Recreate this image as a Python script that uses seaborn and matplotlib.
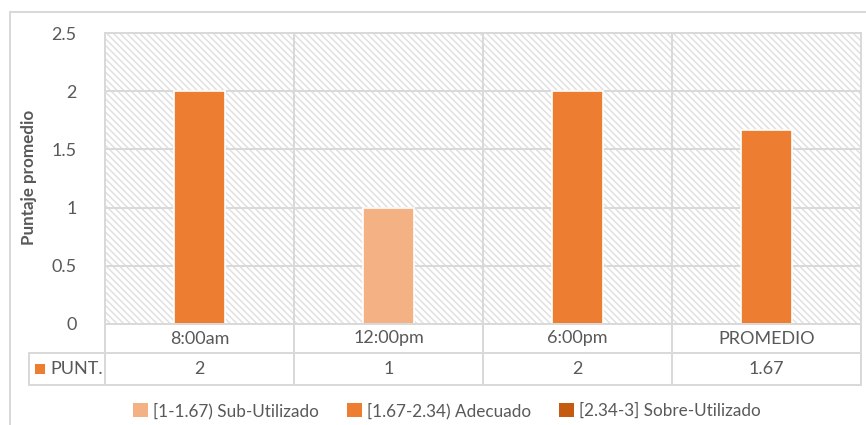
import matplotlib
matplotlib.use("Agg")
import matplotlib.pyplot as plt
import matplotlib.transforms as mtransforms
from matplotlib.lines import Line2D
from matplotlib.patches import Rectangle, Patch
import seaborn as sns
import pandas as pd

# ---- data ----
categories = ["8:00am", "12:00pm", "6:00pm", "PROMEDIO"]
values = [2, 1, 2, 1.67]
value_labels = ["2", "1", "2", "1.67"]
levels = ["[1-1.67) Sub-Utilizado", "[1.67-2.34) Adecuado", "[2.34-3] Sobre-Utilizado"]
bar_levels = ["[1.67-2.34) Adecuado", "[1-1.67) Sub-Utilizado", "[1.67-2.34) Adecuado", "[1.67-2.34) Adecuado"]
level_colors = ["#F4B183", "#ED7D31", "#C55A11"]
series_name = "PUNT."
y_label = "Puntaje promedio"
y_ticks = [0, 0.5, 1, 1.5, 2, 2.5]
y_tick_labels = ["0", "0.5", "1", "1.5", "2", "2.5"]

df = pd.DataFrame({"cat": categories, "val": values, "level": bar_levels})

sns.set_theme(style="white")
plt.rcParams["font.family"] = ["Lato", "DejaVu Sans"]
plt.rcParams["hatch.linewidth"] = 0.9

W, H, DPI = 866, 425, 120
fig = plt.figure(figsize=(W / DPI, H / DPI), dpi=DPI)

def fx(px):
    return px / W

def fy(py):
    return 1 - py / H

GRID = "#D9D9D9"
TXT = "#595959"
FS = 10.8

ax = fig.add_axes([fx(105), fy(324), fx(861) - fx(105), fy(33) - fy(324)])
palette = dict(zip(levels, level_colors))
sns.barplot(data=df, x="cat", y="val", hue="level", hue_order=levels,
            palette=palette, dodge=False, width=0.275, legend=False,
            saturation=1, ax=ax, zorder=3)

ax.set_xlim(-0.5, len(categories) - 0.5)
ax.set_ylim(0, 2.5)
ax.set_yticks(y_ticks)
ax.set_yticklabels(y_tick_labels, color=TXT, fontsize=FS)
ax.tick_params(axis="y", length=0, pad=17)
ax.set_xticks([])
ax.set_xlabel("")
ax.set_ylabel("")
for s in ax.spines.values():
    s.set_color(GRID)
    s.set_linewidth(1.2)
    s.set_zorder(4)

# hatched background
ax.add_patch(Rectangle((0, 0), 1, 1, transform=ax.transAxes, facecolor="none",
                       edgecolor="#E0E0E0", hatch="\\" * 6, linewidth=0, zorder=0))
# grid lines
for yv in y_ticks[1:-1]:
    ax.axhline(yv, color=GRID, lw=1.2, zorder=1)
for i in range(1, len(categories)):
    ax.axvline(i - 0.5, color=GRID, lw=1.2, zorder=1)

# y label
fig.text(fx(29), fy(177), y_label, rotation=90, ha="center", va="center",
         fontsize=10.2, fontweight="bold", color=TXT)

# ---- data table ----
bt = mtransforms.blended_transform_factory(ax.transData, fig.transFigure)
ft = fig.transFigure
r0, r1, r2 = fy(324), fy(353), fy(385)
# horizontal lines
fig.add_artist(Line2D([fx(29), fx(861)], [r1, r1], transform=ft, color=GRID, lw=1.2))
fig.add_artist(Line2D([fx(29), fx(861)], [r2, r2], transform=ft, color=GRID, lw=1.2))
# vertical lines
for i in range(len(categories) + 1):
    xv = i - 0.5
    fig.add_artist(Line2D([xv, xv], [r2, r0], transform=bt, color=GRID, lw=1.2))
fig.add_artist(Line2D([fx(29), fx(29)], [r2, r1], transform=ft, color=GRID, lw=1.2))

for i, (c, v) in enumerate(zip(categories, value_labels)):
    fig.text(i, (r0 + r1) / 2, c, transform=bt, ha="center", va="center",
             fontsize=FS, color=TXT)
    fig.text(i, (r1 + r2) / 2, v, transform=bt, ha="center", va="center",
             fontsize=FS, color=TXT)

fig.add_artist(Rectangle((fx(35), fy(374)), fx(45) - fx(35), fy(364) - fy(374),
                         transform=ft, facecolor=level_colors[1], edgecolor="none"))
fig.text(fx(50), (r1 + r2) / 2, series_name, ha="left", va="center",
         fontsize=FS, color=TXT)

# outer chart border
fig.add_artist(Rectangle((fx(10), fy(H + 5)), fx(W + 5) - fx(10), fy(12) - fy(H + 5),
                         transform=ft, facecolor="none", edgecolor=GRID, lw=1.2))

# legend
handles = [Patch(facecolor=c, edgecolor="none", label=l) for l, c in zip(levels, level_colors)]
fig.legend(handles=handles, loc="center", bbox_to_anchor=(fx(447), fy(411)), ncol=3,
           frameon=False, fontsize=10.3, handlelength=0.9, handleheight=0.9,
           handletextpad=0.3, columnspacing=1.6, labelcolor=TXT)

fig.savefig("out.png", dpi=DPI)
